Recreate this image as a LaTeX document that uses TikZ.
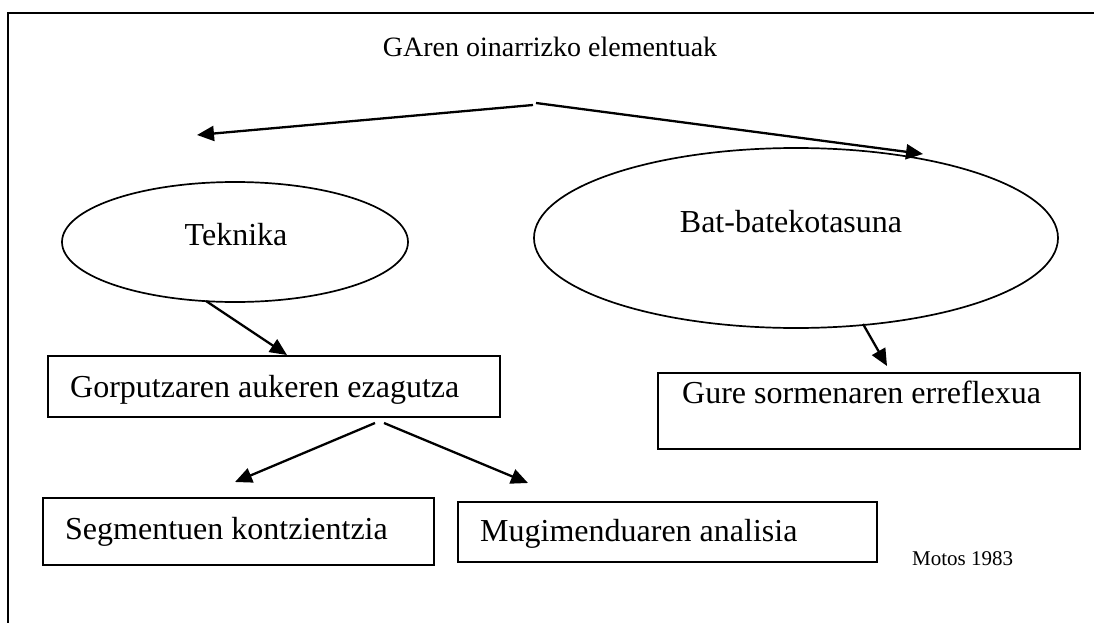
\documentclass[tikz,border=0pt]{standalone}
\usepackage{fontspec}
\setmainfont{Liberation Serif}
\usetikzlibrary{arrows.meta,shapes.geometric}
\begin{document}
\begin{tikzpicture}[x=1pt,y=-1pt,
  box/.style={draw, line width=1.7pt, rectangle, inner sep=0pt},
  oval/.style={draw, line width=1.7pt, ellipse, inner sep=0pt},
  txt/.style={font=\fontsize{32}{38}\selectfont, inner sep=0pt},
  head/.style={font=\fontsize{28}{34}\selectfont, inner sep=0pt},
  small/.style={font=\fontsize{21}{25}\selectfont, inner sep=0pt},
  conn/.style={line width=2.3pt, -{Triangle[length=17pt,width=15pt]}},
]
\useasboundingbox (0,0) rectangle (1094,623);

% page frame: left and top rules
\draw[line width=2.6pt] (8,623) -- (8,13) -- (1094,13);

% title
\node[head, anchor=base] (title) at (550,57) {GAren oinarrizko elementuak};

% the two elements
\node[oval, minimum width=346, minimum height=120] (tek) at (235,242) {};
\node[txt, anchor=base] (tektxt) at (236,245) {Teknika};
\node[oval, minimum width=524, minimum height=180] (bat) at (796,238) {};
\node[txt, anchor=base] (battxt) at (791,232) {Bat-batekotasuna};

% boxes
\node[box, minimum width=452, minimum height=61] (gor) at (274,386.5) {};
\node[txt, anchor=base west] (gortxt) at (70,397) {Gorputzaren aukeren ezagutza};
\node[box, minimum width=422, minimum height=76] (gure) at (869,411) {};
\node[txt, anchor=base west] (guretxt) at (682,403) {Gure sormenaren erreflexua};
\node[box, minimum width=391, minimum height=67] (seg) at (238.5,531.5) {};
\node[txt, anchor=base west] (segtxt) at (65,539) {Segmentuen kontzientzia};
\node[box, minimum width=419, minimum height=60] (mug) at (667.5,532) {};
\node[txt, anchor=base west] (mugtxt) at (480,541) {Mugimenduaren analisia};

\node[small, anchor=base west] (motos) at (912,565) {Motos 1983};

% connector ends
\coordinate (tl) at (533,105);
\coordinate (tlend) at (197,135);
\coordinate (tr) at (536,103);
\coordinate (trend) at (923,154);
\coordinate (tekfoot) at (206,301);
\coordinate (gortop) at (287,355);
\coordinate (batfoot) at (863,324);
\coordinate (guretop) at (887,366);
\coordinate (gl) at (375,423);
\coordinate (glend) at (235,482);
\coordinate (gr) at (384,423);
\coordinate (grend) at (528,483);

% connectors
\draw[conn] (tl) -- (tlend);
\draw[conn] (tr) -- (trend);
\draw[conn] (tekfoot) -- (gortop);
\draw[conn] (batfoot) -- (guretop);
\draw[conn] (gl) -- (glend);
\draw[conn] (gr) -- (grend);
\end{tikzpicture}
\end{document}
